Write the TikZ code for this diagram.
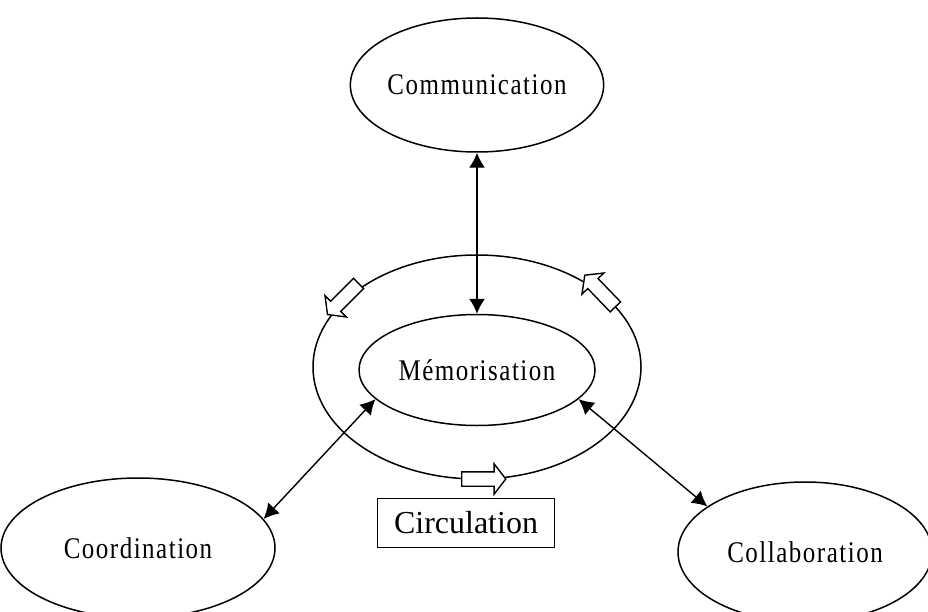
\documentclass[tikz,border=0pt]{standalone}
\usepackage{fontspec}
\setmainfont{Liberation Serif}
\newfontfamily\spacedfont[LetterSpace=6]{Liberation Serif}
\usepackage{tikz}
\usetikzlibrary{arrows.meta,shapes.geometric,shapes.arrows}
\newcommand\tallword[1]{\scalebox{1}[1.2]{#1}}

\begin{document}
\begin{tikzpicture}[x=1pt, y=-1pt,
                    every edge/.style={draw,solid,line width=1.4pt},
                    bubble/.style={draw,ellipse,line width=1.5pt,inner sep=0pt,
                                   font=\spacedfont\fontsize{25}{29}\selectfont},
                    flow/.style={draw,single arrow,line width=1.4pt,fill=white,
                                 inner xsep=0pt,inner ysep=6.5pt,
                                 minimum height=44pt,
                                 single arrow head extend=8pt,single arrow tip angle=105},
                    >={Latex[length=15pt,width=16pt]}]

\useasboundingbox (0,0) rectangle (928,612);
\clip (0,0) rectangle (928,612);

\node[bubble, minimum width=216pt, minimum height=134pt] (comm) at (477,85) {\tallword{Communication}};
\node[bubble, minimum width=328pt, minimum height=224pt] (ring) at (477,367) {};
\node[bubble, minimum width=236pt, minimum height=111pt] (memo) at (477,370) {\tallword{Mémorisation}};
\node[bubble, minimum width=274pt, minimum height=140pt] (coord) at (138,548) {\tallword{Coordination}};
\node[bubble, minimum width=254pt, minimum height=140pt] (collab) at (805,552) {\tallword{Collaboration}};
\node[draw, line width=1.4pt, minimum width=177pt, minimum height=49pt,
      font=\fontsize{32}{36}\selectfont] (circ) at (466,523) {Circulation};

% circulation around the ring
\node[flow, rotate=225] (f1) at (345,297) {};
\node[flow, rotate=134] (f2) at (602,293) {};
\node[flow] (f3) at (481,479) {};

\path[<->]
(comm.south) edge (memo.north)
(memo.196) edge (coord.13)
(memo.344) edge (collab.155);
\end{tikzpicture}
\end{document}
